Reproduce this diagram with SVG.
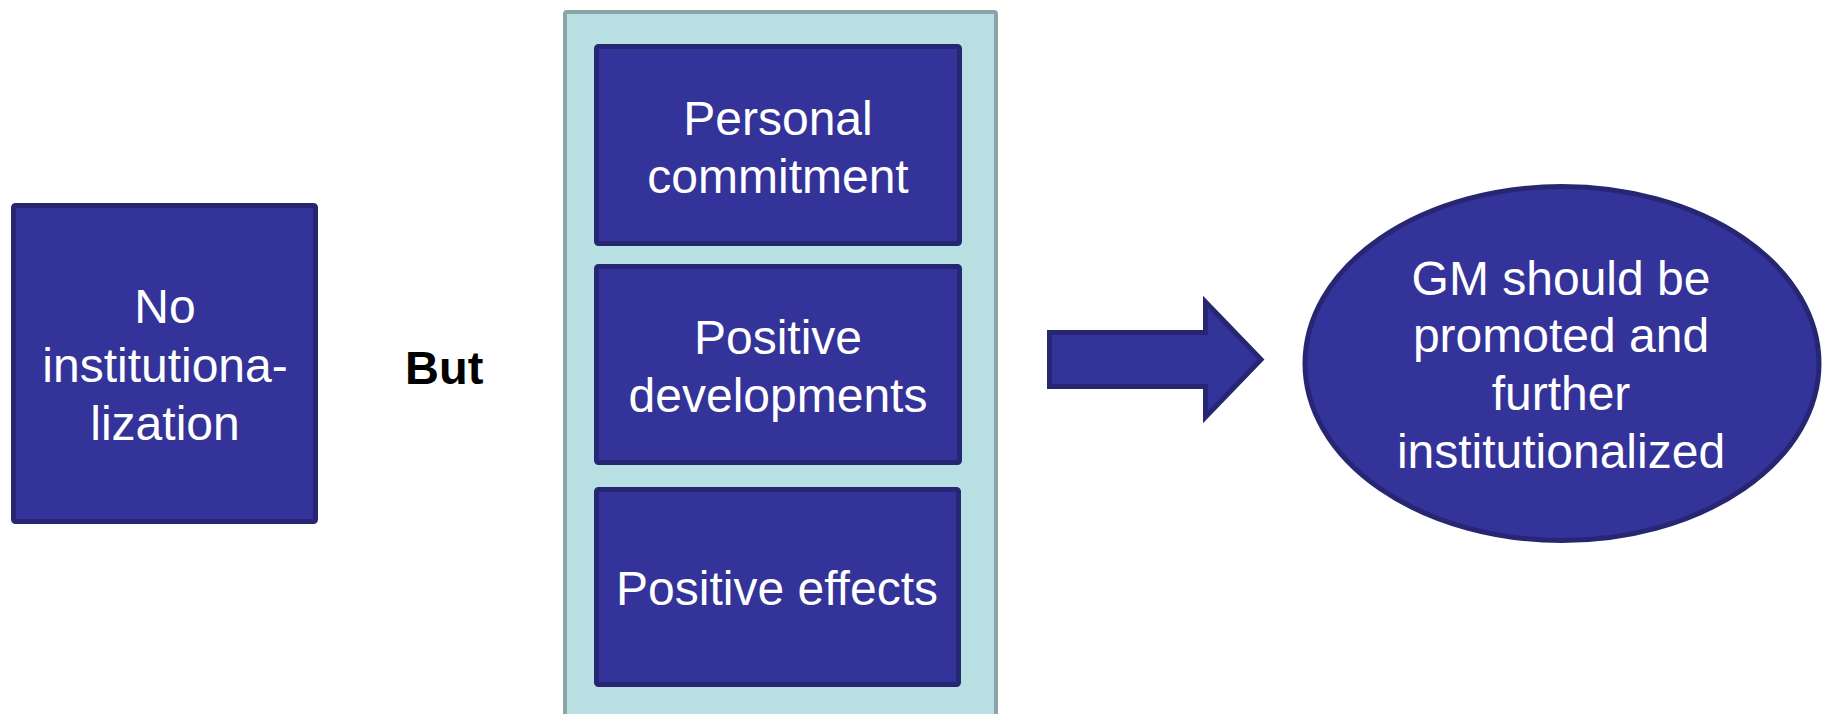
<svg xmlns="http://www.w3.org/2000/svg" width="1822" height="714" viewBox="0 0 1822 714">
  <style>
    .box { fill: #333399; stroke: #262673; stroke-width: 5; }
    .t { font-family: "Liberation Sans", Arial, sans-serif; font-size: 48px; fill: #ffffff; text-anchor: middle; }
    .b { font-family: "Liberation Sans", Arial, sans-serif; font-size: 47px; font-weight: bold; fill: #000000; }
  </style>
  <rect width="1822" height="714" fill="#ffffff"/>
  <g id="left-box">
    <rect class="box" x="13.5" y="205.5" width="302" height="316" rx="2"/>
    <text class="t" x="165" y="323">No</text>
    <text class="t" x="165" y="382">institutiona-</text>
    <text class="t" x="165" y="440">lization</text>
  </g>
  <g id="but-label">
    <text class="b" x="405" y="384">But</text>
  </g>
  <g id="container">
    <rect x="565" y="12" width="431" height="704" fill="#b8dfe2" stroke="#8aa5a8" stroke-width="4" rx="2"/>
  </g>
  <g id="personal-commitment">
    <rect class="box" x="596.5" y="46.5" width="363" height="197" rx="2"/>
    <text class="t" x="778" y="135">Personal</text>
    <text class="t" x="778" y="193">commitment</text>
  </g>
  <g id="positive-developments">
    <rect class="box" x="596.5" y="266.5" width="363" height="196" rx="2"/>
    <text class="t" x="778" y="354">Positive</text>
    <text class="t" x="778" y="412">developments</text>
  </g>
  <g id="positive-effects">
    <rect class="box" x="596.5" y="489.5" width="362" height="195" rx="2"/>
    <text class="t" x="777" y="605">Positive effects</text>
  </g>
  <g id="connectors">
    <polygon class="box" points="1049.5,332.5 1205.5,332.5 1205.5,302 1261,359.5 1205.5,417 1205.5,386.5 1049.5,386.5"/>
  </g>
  <g id="result-ellipse">
    <ellipse class="box" cx="1562" cy="363.5" rx="257" ry="177" stroke-width="4"/>
    <text class="t" x="1561" y="295">GM should be</text>
    <text class="t" x="1561" y="352">promoted and</text>
    <text class="t" x="1561" y="410">further</text>
    <text class="t" x="1561" y="468">institutionalized</text>
  </g>
</svg>
